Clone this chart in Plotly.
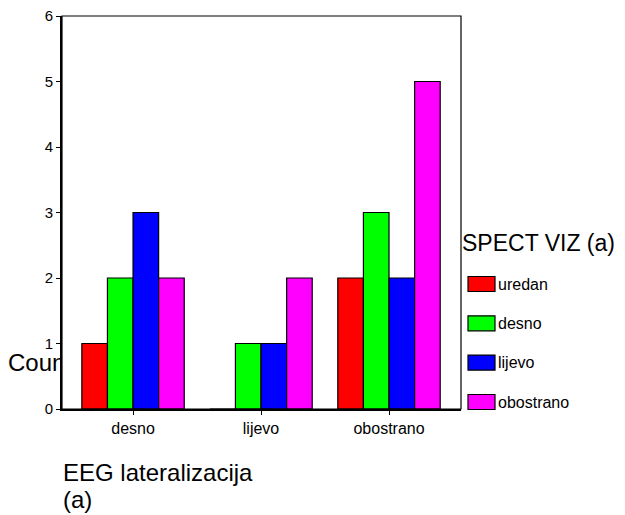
import plotly.graph_objects as go

categories = ["desno", "lijevo", "obostrano"]
series_names = ["uredan", "desno", "lijevo", "obostrano"]
uredan = [1, 0, 2]
desno = [2, 1, 3]
lijevo = [3, 1, 2]
obostrano = [2, 2, 5]
series_values = [uredan, desno, lijevo, obostrano]
colors = ["#FF0000", "#00FF00", "#0000FF", "#FF00FF"]
y_ticks = [0, 1, 2, 3, 4, 5, 6]

OFF = 8  # page body margin
W, H = 625 - 2 * OFF, 515 - OFF
FONT = "Liberation Sans, Arial, sans-serif"

def px_x(p):
    return (p - OFF) / W

def px_y(p):
    return 1 - (p - OFF) / H

fig = go.Figure()
for name, vals, col in zip(series_names, series_values, colors):
    fig.add_trace(go.Bar(
        x=categories, y=vals, name=name, showlegend=False,
        marker=dict(color=col, line=dict(color="black", width=1.2)),
        xaxis="x", yaxis="y",
    ))

# Y axis title text clipped at plot edge (drawn in a helper subplot)
fig.add_trace(go.Scatter(
    x=[0], y=[(409 - 365) / 393], mode="text", text=["Count"],
    textposition="middle right", textfont=dict(size=24, family=FONT, color="black"),
    cliponaxis=True, showlegend=False, hoverinfo="skip",
    xaxis="x2", yaxis="y2",
))

fig.update_layout(
    width=W, height=H,
    margin=dict(l=0, r=0, t=0, b=0, autoexpand=False),
    paper_bgcolor="white", plot_bgcolor="white",
    barmode="group", bargap=0.2, bargroupgap=0,
    font=dict(family=FONT, color="black"),
    xaxis=dict(
        domain=[px_x(62), px_x(461)], range=[-0.555, 2.5625],
        type="category", categoryorder="array", categoryarray=categories,
        showline=True, linecolor="black", linewidth=2,
        ticks="outside", ticklen=4, tickcolor="black", tickwidth=1,
        tickfont=dict(size=16, family=FONT), showgrid=False, zeroline=False,
        automargin=False, anchor="y", ticklabeloverflow="allow",
    ),
    yaxis=dict(
        domain=[px_y(409), px_y(16)], range=[0, 6],
        tickvals=y_ticks, ticktext=[str(v) for v in y_ticks],
        showline=True, linecolor="black", linewidth=2,
        ticks="outside", ticklen=4, tickcolor="black", tickwidth=1,
        tickfont=dict(size=15, family=FONT), showgrid=False, zeroline=False,
        automargin=False, anchor="x", ticklabeloverflow="allow",
    ),
    xaxis2=dict(domain=[0, px_x(62)], range=[0, 62 - OFF], visible=False,
                showgrid=False, zeroline=False, anchor="y2", fixedrange=True),
    yaxis2=dict(domain=[px_y(409), px_y(16)], range=[0, 1], visible=False,
                showgrid=False, zeroline=False, anchor="x2", fixedrange=True),
)

# thin frame on top/right
fig.add_shape(type="rect", xref="x domain", yref="y domain", x0=0, x1=1, y0=0, y1=1,
              line=dict(color="black", width=1.2), fillcolor="rgba(0,0,0,0)", layer="above")

# X axis title (two lines)
fig.add_annotation(x=px_x(61), y=px_y(472), xref="paper", yref="paper",
                   xanchor="left", yanchor="middle", align="left", showarrow=False,
                   text="EEG lateralizacija", font=dict(size=24, family=FONT))
fig.add_annotation(x=px_x(61), y=px_y(499), xref="paper", yref="paper",
                   xanchor="left", yanchor="middle", align="left", showarrow=False,
                   text="(a)", font=dict(size=24, family=FONT))

# Custom legend
fig.add_annotation(x=px_x(460), y=px_y(243), xref="paper", yref="paper",
                   xanchor="left", yanchor="middle", showarrow=False,
                   text="SPECT VIZ (a)", font=dict(size=23, family=FONT))
legend_y = [284, 323.3, 362.6, 402]
for name, col, cy in zip(series_names, colors, legend_y):
    fig.add_shape(type="rect", xref="paper", yref="paper",
                  x0=px_x(468), x1=px_x(495), y0=px_y(cy + 7.5), y1=px_y(cy - 7.5),
                  line=dict(color="black", width=1.2), fillcolor=col)
    fig.add_annotation(x=px_x(496), y=px_y(cy), xref="paper", yref="paper",
                       xanchor="left", yanchor="middle", showarrow=False,
                       text=name, font=dict(size=16, family=FONT))

fig.write_html("out.html")
